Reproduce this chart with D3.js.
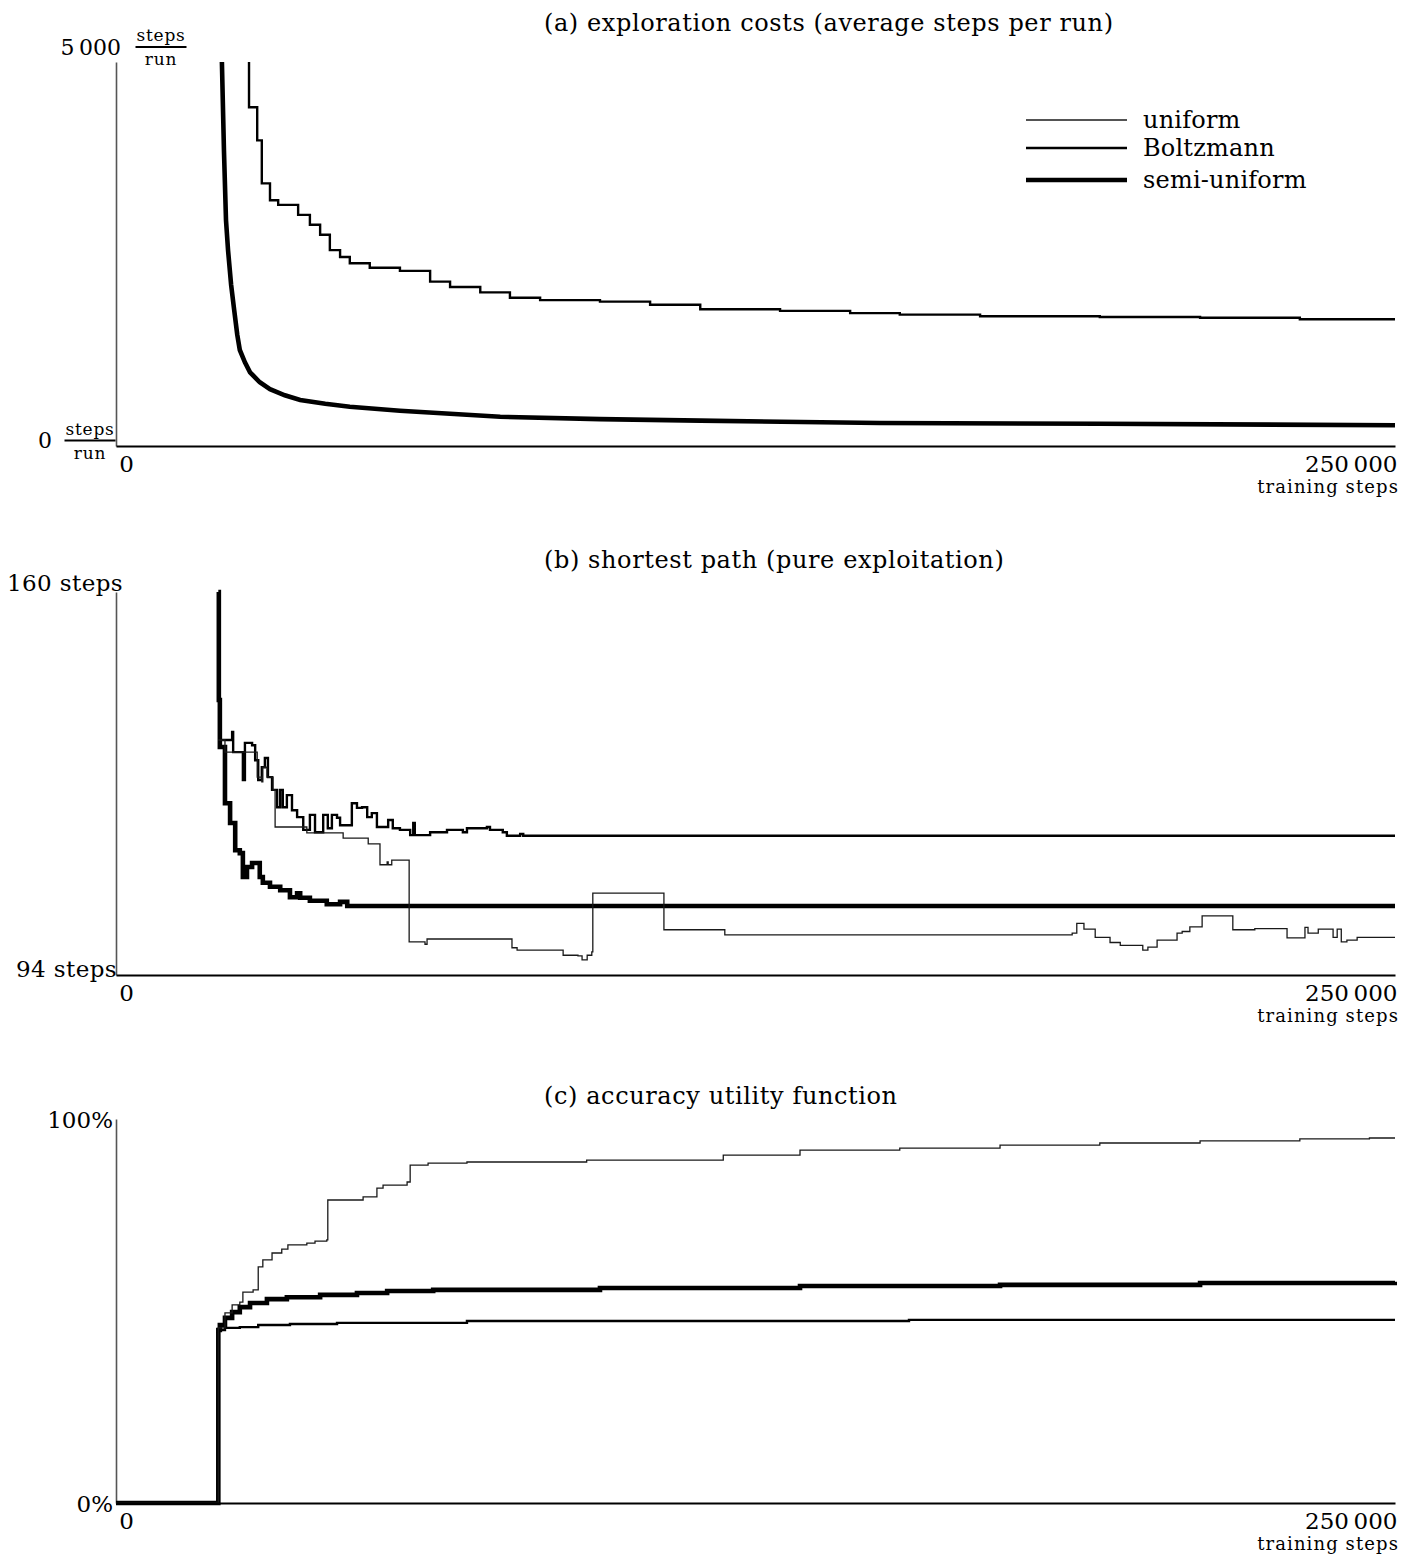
<!DOCTYPE html>
<html><head><meta charset="utf-8">
<script src="https://cdn.jsdelivr.net/npm/d3@7"></script>
<style>
body{margin:0;background:#fff}
text{font-family:"DejaVu Serif",serif;fill:#000}
</style>
</head><body>
<svg id="chart" width="1416" height="1558"></svg>
<script>
// ---------- data ----------
const xDomain = [0, 250000];
const xTickLabels = ["0", "250\u2009000"];
const xAxisTitle = "training steps";
const seriesNames = ["uniform", "Boltzmann", "semi-uniform"];
const panelTitles = ["(a) exploration costs (average steps per run)",
                     "(b) shortest path (pure exploitation)",
                     "(c) accuracy utility function"];

// (a) exploration costs, steps per run  (uniform lies above 5000, off the chart)
const aDomain = [0, 5000];
const aBoltzmann = [[26000,5000],[27600,4410],[28500,3980],[30100,3420],[31700,3200],[35600,3140],[37900,3010],[39900,2880],[41800,2750],[43800,2550],[45700,2460],[49600,2380],[55500,2320],[61400,2280],[65300,2140],[71200,2070],[77000,2000],[82900,1930],[94600,1900],[104400,1880],[114200,1840],[129800,1780],[143500,1760],[153200,1730],[168900,1710],[192300,1690],[211900,1680],[231400,1670],[250000,1650]];
const aSemiUniform = [[20700,5000],[21100,3850],[21500,2940],[21900,2550],[22500,2100],[23100,1770],[23700,1450],[24200,1250],[25200,1090],[26200,960],[28100,830],[30100,740],[33000,660],[36000,600],[40900,550],[45700,510],[55500,460],[65300,420],[75100,380],[94600,350],[114200,330],[149300,300],[192300,290],[250000,270]];

// (b) shortest path, steps
const bDomain = [94, 160];
const bUniform = [[20000,134.5],[21300,132.4],[27600,128.1],[28500,127.3],[28700,129.8],[29500,128.1],[30700,125.9],[31100,119.5],[37300,118.5],[44400,117.6],[49300,116.6],[51600,113.0],[53000,113.5],[53200,113.0],[53900,113.8],[57300,99.7],[60400,99.3],[60800,100.2],[77400,98.7],[78400,98.3],[87400,97.4],[90300,97.3],[91100,96.6],[92100,97.4],[93000,98.0],[93200,108.1],[107100,101.8],[119000,100.9],[186900,101.2],[187800,102.9],[189200,101.9],[191400,100.5],[194300,99.6],[196300,99.1],[200700,98.3],[201700,98.8],[203500,100.0],[207400,101.2],[208400,101.5],[209900,102.3],[212300,104.2],[218300,101.8],[222600,102.0],[228900,100.4],[232400,102.2],[233000,101.2],[235000,101.9],[237900,100.5],[238700,101.9],[239500,99.7],[240600,100.0],[242600,100.5],[250000,100.5]];
const bBoltzmann = [[20000,134.5],[22700,135.9],[22900,132.4],[24200,132.4],[24800,127.6],[25200,134.0],[26600,133.6],[27200,131.0],[27800,127.6],[28500,129.8],[29100,131.4],[29700,128.1],[30500,125.9],[31500,122.9],[32100,125.9],[32600,122.9],[33400,125.0],[34400,122.4],[35400,121.2],[36600,119.0],[37900,121.6],[38900,118.6],[40500,121.6],[41400,119.3],[42200,121.6],[43200,121.1],[43800,119.8],[46100,123.6],[47100,122.8],[48100,122.9],[49100,121.2],[50000,121.9],[51000,119.5],[53200,120.7],[54100,119.3],[55500,119.0],[57500,118.1],[58100,120.2],[58400,118.1],[61400,118.6],[64700,119.0],[67800,118.6],[68600,119.3],[72500,119.5],[73100,119.0],[75600,118.6],[76400,118.0],[79000,118.3],[79600,118.0],[250000,118.0]];
const bSemiUniform = [[20000,160],[20100,141.4],[20300,133.3],[21300,123.6],[22300,120.2],[23300,115.5],[24200,115.0],[24800,110.9],[25600,112.6],[26600,113.3],[28100,110.9],[28700,109.9],[30100,109.2],[32100,108.6],[34000,107.4],[35400,108.1],[36000,107.3],[37900,106.8],[41200,106.2],[43800,106.6],[45200,105.9],[250000,105.9]];

// (c) accuracy utility function, percent
const cDomain = [0, 100];
const cUniform = [[0,0],[20000,45.6],[21300,49.5],[22700,51.6],[24200,52.3],[24800,54.9],[26800,55.5],[27800,61.5],[28700,63.3],[30500,65.1],[32400,66.1],[33600,67.2],[37300,67.7],[38900,68.2],[41200,68.5],[41400,78.9],[48300,79.7],[51000,82.0],[52200,82.8],[56900,83.6],[57500,88.0],[61000,88.5],[68600,88.8],[92000,89.3],[118700,90.6],[133700,91.9],[153200,92.4],[172800,93.2],[192300,93.75],[211900,94.3],[231400,94.8],[245000,95.05],[250000,95.05]];
const cBoltzmann = [[0,0],[20000,45.05],[21300,45.6],[24200,45.8],[27800,46.35],[34000,46.6],[43200,46.9],[68600,47.4],[155000,47.7],[250000,47.7]];
const cSemiUniform = [[0,0],[20000,45.05],[20300,46.35],[21300,48.2],[22700,49.7],[24200,51.0],[26200,52.1],[29500,53.1],[33400,53.6],[39900,54.2],[47100,54.7],[53000,55.2],[62000,55.5],[94600,56.0],[133700,56.5],[172800,56.8],[211900,57.3],[250000,57.6]];

// ---------- drawing ----------
const svg = d3.select("#chart");
const x = d3.scaleLinear().domain(xDomain).range([116, 1395]);

const styles = [
  {w:1.3, c:"#1a1a1a"},   // uniform
  {w:2.4, c:"#000"},      // Boltzmann
  {w:4.6, c:"#000"}       // semi-uniform
];

const panels = [
  {title: panelTitles[0], titleY: 31, dom: aDomain, top: 62, bottom: 446,
   series: [null, aBoltzmann, aSemiUniform], curves:[null, d3.curveStepBefore, d3.curveLinear]},
  {title: panelTitles[1], titleY: 568, dom: bDomain, top: 592, bottom: 975,
   series: [bUniform, bBoltzmann, bSemiUniform], curves:[d3.curveStepAfter, d3.curveStepAfter, d3.curveStepAfter]},
  {title: panelTitles[2], titleY: 1104, dom: cDomain, top: 1119, bottom: 1503,
   series: [cUniform, cBoltzmann, cSemiUniform], curves:[d3.curveStepAfter, d3.curveStepAfter, d3.curveStepAfter]}
];

panels.forEach((p, i) => {
  const y = d3.scaleLinear().domain(p.dom).range([p.bottom, p.top]);
  const g = svg.append("g");

  // title
  g.append("text").attr("x", 544).attr("y", p.titleY)
    .attr("font-size", 24).attr("letter-spacing", 0.6).text(p.title);

  // clip
  const cid = "clip" + i;
  svg.append("clipPath").attr("id", cid).append("rect")
    .attr("x", 116).attr("y", p.top - (i === 0 ? 0 : 3))
    .attr("width", 1395 - 116 + 2).attr("height", p.bottom - p.top + 8);

  // y axis (domain line only)
  const ya = g.append("g").attr("transform", "translate(116,0)")
    .call(d3.axisLeft(y).tickValues([]).tickSizeOuter(0));
  ya.select(".domain").attr("stroke", "#555").attr("stroke-width", 1.6);

  // series (semi first so thin lines stay visible on top)
  const lg = g.append("g").attr("clip-path", `url(#${cid})`);
  [2, 1, 0].forEach(k => {
    const d = p.series[k];
    if (!d) return;
    const line = d3.line().x(v => x(v[0])).y(v => y(v[1])).curve(p.curves[k]);
    lg.append("path").datum(d).attr("d", line)
      .attr("fill", "none").attr("stroke", styles[k].c)
      .attr("stroke-width", styles[k].w).attr("stroke-linejoin", "miter")
      .attr("stroke-linecap", "butt");
  });

  // x axis
  const xa = g.append("g").attr("transform", `translate(0,${p.bottom})`)
    .call(d3.axisBottom(x).tickValues(xDomain).tickSize(0).tickSizeOuter(0)
      .tickPadding(10).tickFormat((d, j) => xTickLabels[j]));
  xa.select(".domain").attr("stroke", "#000").attr("stroke-width", 2);
  xa.selectAll("text").attr("font-size", 23).attr("font-family", '"DejaVu Serif",serif')
    .attr("fill", "#000")
    .attr("text-anchor", (d, j) => j === 0 ? "middle" : "end")
    .attr("dx", (d, j) => j === 0 ? 10 : 2);
  g.append("text").attr("x", 1399).attr("y", p.bottom + 47)
    .attr("text-anchor", "end").attr("font-size", 18).attr("letter-spacing", 1.1)
    .text(xAxisTitle);

  // y labels
  if (i === 0) {
    const frac = (cx, cy) => {
      g.append("text").attr("x", cx).attr("y", cy - 6).attr("text-anchor", "middle")
        .attr("font-size", 17).attr("letter-spacing", 0.8).text("steps");
      g.append("line").attr("x1", cx - 25.5).attr("x2", cx + 25.5)
        .attr("y1", cy).attr("y2", cy).attr("stroke", "#000").attr("stroke-width", 2);
      g.append("text").attr("x", cx).attr("y", cy + 18).attr("text-anchor", "middle")
        .attr("font-size", 17).attr("letter-spacing", 0.8).text("run");
    };
    g.append("text").attr("x", 121).attr("y", y(5000) - 7).attr("text-anchor", "end")
      .attr("font-size", 22).text("5\u2009000");
    frac(161, y(5000) - 15);
    g.append("text").attr("x", 52).attr("y", y(0) + 2).attr("text-anchor", "end")
      .attr("font-size", 22).text("0");
    frac(90, y(0) - 5.5);
  } else if (i === 1) {
    g.append("text").attr("x", 123).attr("y", y(160) - 1).attr("text-anchor", "end")
      .attr("font-size", 23).attr("letter-spacing", 0.4).text("160 steps");
    g.append("text").attr("x", 117).attr("y", y(94) + 2).attr("text-anchor", "end")
      .attr("font-size", 23).attr("letter-spacing", 0.4).text("94 steps");
  } else {
    g.append("text").attr("x", 113).attr("y", y(100) + 9).attr("text-anchor", "end")
      .attr("font-size", 23).text("100%");
    g.append("text").attr("x", 113).attr("y", y(0) + 9).attr("text-anchor", "end")
      .attr("font-size", 23).text("0%");
  }
});

// legend (in panel a)
const legY = [120, 148, 180];
const leg = svg.append("g");
seriesNames.forEach((name, k) => {
  leg.append("line").attr("x1", 1026).attr("x2", 1127)
    .attr("y1", legY[k]).attr("y2", legY[k])
    .attr("stroke", styles[k].c).attr("stroke-width", styles[k].w);
  leg.append("text").attr("x", 1143).attr("y", legY[k] + 8)
    .attr("font-size", 24).attr("letter-spacing", 0.2).text(name);
});
</script>
</body></html>
